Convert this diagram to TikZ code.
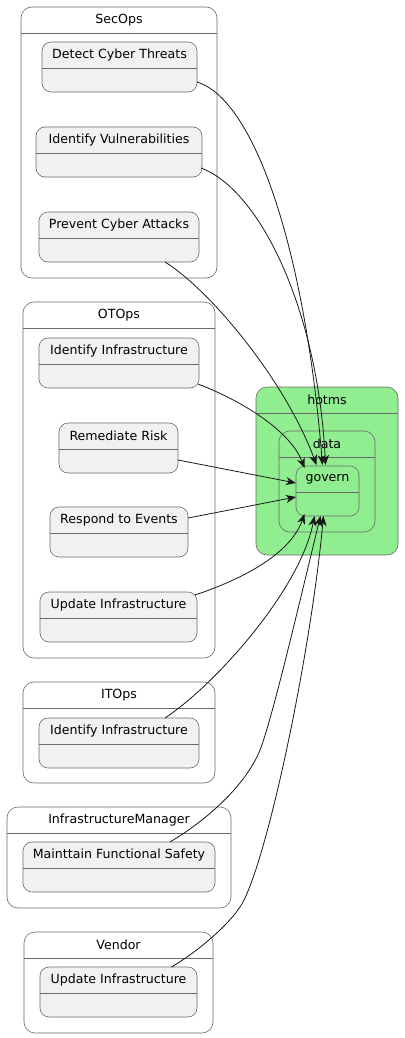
\documentclass[tikz,border=0pt]{standalone}
\usepackage{fontspec}
\setmainfont{DejaVu Sans}
\usetikzlibrary{fit,arrows.meta}
\definecolor{stfill}{HTML}{F1F1F1}
\definecolor{lgreen}{HTML}{90EE90}
\definecolor{bord}{HTML}{6A6A6A}
\definecolor{edgec}{HTML}{181818}
\tikzset{
  stbox/.style={draw=bord,line width=0.6pt,fill=stfill,rounded corners=9pt,inner sep=0pt,outer sep=0pt},
  contbox/.style={draw=bord,line width=0.6pt,fill=white,rounded corners=11pt,inner sep=0pt,outer sep=0pt},
  greenbox/.style={draw=bord,line width=0.6pt,fill=lgreen,rounded corners=11pt,inner sep=0pt,outer sep=0pt},
  greenst/.style={draw=bord,line width=0.6pt,fill=lgreen,rounded corners=9pt,inner sep=0pt,outer sep=0pt},
  divline/.style={draw=bord,line width=0.6pt},
  lbl/.style={inner sep=0pt,outer sep=0pt,font=\fontsize{12.6}{14}\selectfont,text=black},
  flow/.style={draw=edgec,line width=0.8pt,-{Stealth[length=10pt,width=8pt,inset=3pt]}}
}
\newcommand\mystate[7]{%
  \node[#7, fit={(#2,#3) (#4,#5)}] (#1) {};
  \draw[divline] ([yshift=-26pt]#1.north west) -- ([yshift=-26pt]#1.north east);
  \node[lbl] (#1-t) at ([yshift=-13pt]#1.north) {#6};
}
\begin{document}
\begin{tikzpicture}[x=1pt,y=-1pt]
\useasboundingbox (0,0) rectangle (404,1038);
% containers
\mystate{c1}{21}{7}{217}{278}{SecOps}{contbox}
\mystate{c2}{23}{302}{215}{658}{OTOps}{contbox}
\mystate{c3}{23}{682}{215}{783}{ITOps}{contbox}
\mystate{c4}{7}{807}{231}{908}{InfrastructureManager}{contbox}
\mystate{c5}{24}{932}{213}{1033}{Vendor}{contbox}
\mystate{hot}{256}{387}{398}{555}{hotms}{greenbox}
\mystate{data}{279}{431}{375}{532}{data}{greenbox}
\mystate{govern}{296}{466}{359}{516}{govern}{greenst}
% states
\mystate{dct}{42}{42}{197}{92}{Detect Cyber Threats}{stbox}
\mystate{ivu}{36}{127}{202}{177}{Identify Vulnerabilities}{stbox}
\mystate{pca}{39}{212}{199}{262}{Prevent Cyber Attacks}{stbox}
\mystate{oii}{39}{338}{199}{388}{Identify Infrastructure}{stbox}
\mystate{rr}{59}{423}{178}{473}{Remediate Risk}{stbox}
\mystate{rte}{50}{507}{188}{557}{Respond to Events}{stbox}
\mystate{oui}{40}{592}{197}{642}{Update Infrastructure}{stbox}
\mystate{iti}{39}{718}{199}{768}{Identify Infrastructure}{stbox}
\mystate{mfs}{23}{842}{215}{892}{Mainttain Functional Safety}{stbox}
\mystate{vui}{40}{967}{197}{1017}{Update Infrastructure}{stbox}
% edges
\draw[flow] ([yshift=-15pt]dct.east) .. controls (255,100) and (305,250) .. ([xshift=-5pt,yshift=1pt]govern.north);
\draw[flow] ([xshift=-1pt,yshift=-16pt]ivu.east) .. controls (260,190) and (318,310) .. ([xshift=-2pt,yshift=1pt]govern.north);
\draw[flow] ([xshift=46pt]pca.south) .. controls (210,290) and (285,380) .. ([xshift=-11pt,yshift=1pt]govern.north);
\draw[flow] ([xshift=-1pt,yshift=-21pt]oii.east) .. controls (240,400) and (290,430) .. ([xshift=-23pt,yshift=-2pt]govern.north);
\draw[flow] ([yshift=-12pt]rr.east) -- ([yshift=8pt]govern.west);
\draw[flow] ([yshift=14pt]rte.east) -- ([yshift=-6pt]govern.west);
\draw[flow] ([xshift=-2pt,yshift=22pt]oui.east) .. controls (240,580) and (290,555) .. ([xshift=-23pt,yshift=2pt]govern.south);
\draw[flow] ([xshift=46pt]iti.north) .. controls (215,685) and (300,590) .. ([xshift=-13pt]govern.south);
\draw[flow] ([xshift=51pt]mfs.north) .. controls (215,815) and (248,780) .. (260,750) .. controls (272,720) and (300,600) .. ([xshift=-7pt]govern.south);
\draw[flow] ([xshift=53pt]vui.north) .. controls (200,950) and (228,925) .. (240,907) .. controls (265,870) and (310,660) .. ([xshift=-4pt]govern.south);
\end{tikzpicture}
\end{document}
